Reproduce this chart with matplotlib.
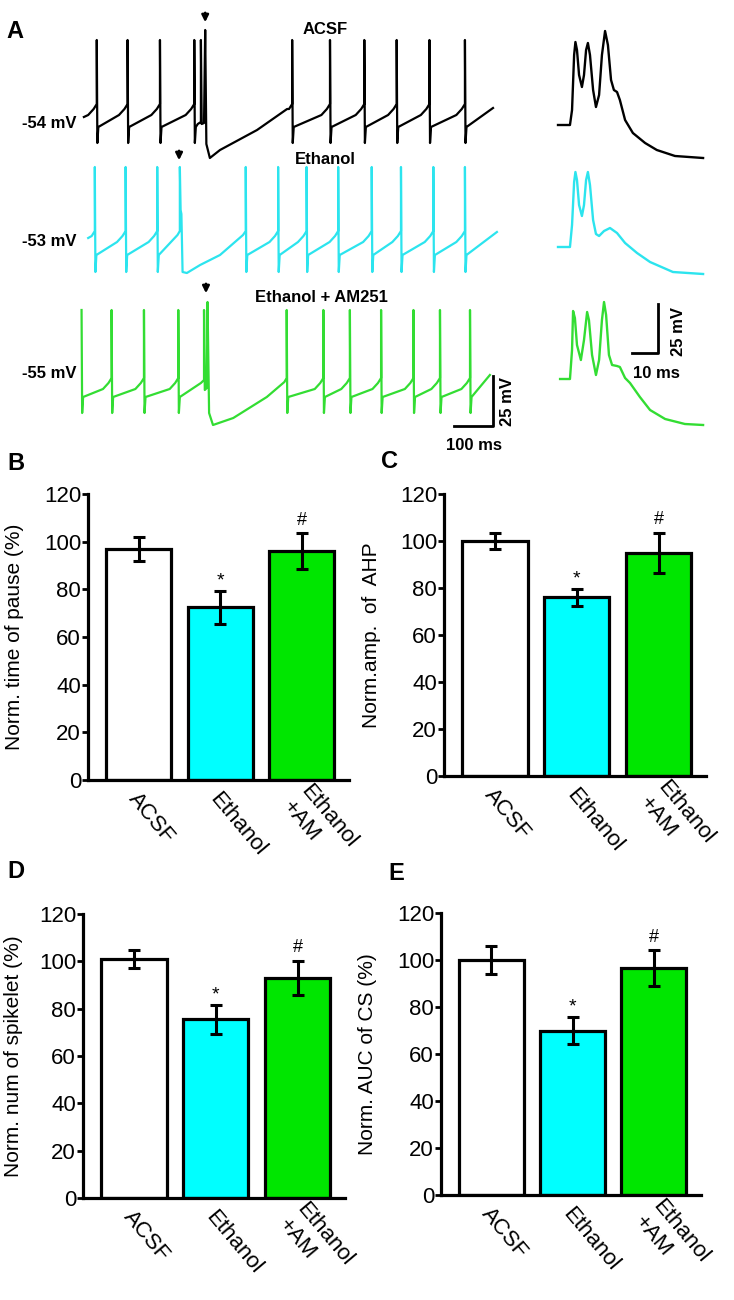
import numpy as np
import matplotlib.pyplot as plt

plt.rcParams['font.family'] = ['Liberation Sans', 'DejaVu Sans']

W, H = 734, 1300

# ---------------- data ----------------
groups = ["ACSF", "Ethanol", "Ethanol\n+AM"]

pause_mean = [97, 72.5, 96]
pause_err = [5, 7, 7.5]
ahp_mean = [100, 76, 95]
ahp_err = [3.3, 3.6, 8.5]
spikelet_mean = [101, 75.5, 93]
spikelet_err = [4, 6, 7.3]
auc_mean = [100, 70, 96.5]
auc_err = [5.8, 5.8, 7.6]

# long recordings: spike times (ms) and voltage levels (mV)
acsf_head = [(10, -52.5)]
acsf_pre = [43, 122, 205, 293]
acsf_cs = [(302, -56), (310, -55), (310, -14), (312, -56), (318, -55.5), (321, -9),
           (324, -66), (333, -73), (359, -69), (454, -59), (531, -48.5)]
acsf_post = [544, 641, 729, 812, 896, 987]
acsf_end = (1059, -48)
acsf_lv = dict(peak=-14, thr=-46, trough=-65.5, reset=-57.5)

eth_head = [(21, -52)]
eth_pre = [38, 117, 198]
eth_cs = [(250, -50.5), (256, -48.5), (256, -16.5), (258, -38), (260, -40), (263, -69),
          (274, -69.5), (308, -65.5), (359, -60.5), (418, -50.5)]
eth_post = [425, 508, 581, 662, 748, 823, 906, 987]
eth_end = (1069, -49)
eth_lv = dict(peak=-16.5, thr=-48.5, trough=-69, reset=-60.5)

am_head = [(4, -25), (5.5, -76.5), (8, -68.5)]
am_pre = [81, 164, 252]
am_cs = [(310, -61.5), (318, -60), (318, -25), (320, -65), (325, -64), (327, -21),
         (331, -76.5), (341, -82.5), (393, -79), (479, -68.5), (524, -61)]
am_post = [530, 624, 692, 772, 855, 923, 1000]
am_end = (1051, -57.5)
am_lv = dict(peak=-25, thr=-59, trough=-76.5, reset=-68.5)

# complex spikes (ms, mV relative to baseline)
cs_acsf = [(0, 0), (4.6, 0), (5.4, 7.5), (6.2, 35), (6.7, 41.5), (7.3, 37.5), (8.1, 25),
           (9.2, 19), (10.0, 25), (10.8, 37.5), (11.5, 41), (12.3, 35), (13.5, 17.5),
           (14.6, 9), (15.8, 15), (16.9, 35), (18.1, 47), (19.2, 40), (20.4, 22.5),
           (21.5, 17.5), (22.7, 16.5), (23.8, 12.5), (25.8, 2.5), (28.8, -4),
           (33.5, -9), (38, -12.5), (45, -15.5), (55.8, -16.5)]
cs_eth = [(0, 0), (4.6, 0), (5.4, 11), (6.2, 32.5), (6.7, 37.5), (7.3, 33.5), (8.1, 21),
          (9.2, 15.5), (10, 21), (10.8, 33.5), (11.5, 37.5), (12.3, 31), (13.5, 13.5),
          (14.6, 6.5), (15.8, 5.5), (17.7, 8), (20, 9.5), (22.7, 7), (25.8, 2),
          (30.4, -3), (35.4, -7.5), (44.2, -12.5), (55.8, -13.5)]
cs_am = [(0.8, 0), (4.6, 0), (5.4, 14.5), (5.8, 34), (6.5, 30.5), (7.3, 17), (8.8, 9.5),
         (10, 19.5), (11.2, 33.5), (11.9, 29.5), (13.1, 12), (14.6, 2), (15.8, 9.5),
         (16.9, 29.5), (17.7, 38.5), (18.5, 32), (19.6, 12), (20.8, 7), (22.7, 6.5),
         (23.8, 6), (25.8, 0.5), (27.7, -2), (31.5, -9), (35.4, -15.5), (41.2, -20),
         (48.8, -22.5), (55.8, -23)]

bar_colors = ["white", "#00FFFF", "#00E600"]
trace_colors = ["black", "#2CE4EE", "#33DD33"]

fig = plt.figure(figsize=(W / 100, H / 100), dpi=100)


def px_axes(left, top, width, height):
    ax = fig.add_axes([left / W, 1 - (top + height) / H, width / W, height / H])
    return ax


def ftext(x, y, s, **kw):
    fig.text(x / W, 1 - y / H, s, **kw)


def spike_pts(s, lv):
    return [(s - 22, lv['thr'] - 5.5), (s - 8, lv['thr'] - 2.5), (s, lv['thr']),
            (s, lv['peak']), (s + 1.5, lv['trough']), (s + 4, lv['reset'])]


def add_pts(pts, new):
    # keep time running forward (ramp vertices may fall before a long pause ends)
    for p in new:
        if p[0] >= pts[-1][0]:
            pts.append(p)


def build_trace(head, pre, cs, post, end, lv):
    pts = list(head)
    for s in pre:
        add_pts(pts, spike_pts(s, lv))
    add_pts(pts, cs)
    for s in post:
        add_pts(pts, spike_pts(s, lv))
    pts.append(end)
    return np.array(pts)


# ---------------- panel A: long traces ----------------
# 0.39 px per ms, 2 px per mV; t=0 at x=80 px
traces = [
    (build_trace(acsf_head, acsf_pre, acsf_cs, acsf_post, acsf_end, acsf_lv), 120, -54, 10, 165),
    (build_trace(eth_head, eth_pre, eth_cs, eth_post, eth_end, eth_lv), 240, -53, 150, 285),
    (build_trace(am_head, am_pre, am_cs, am_post, am_end, am_lv), 370, -55, 280, 440),
]
trace_axes = []
for (tr, ylab, vlab, top, bot), col in zip(traces, trace_colors):
    ax = px_axes(80, top, 468, bot - top)
    ax.plot(tr[:, 0], tr[:, 1], color=col, lw=1.6, clip_on=False, solid_joinstyle='round')
    ax.set_xlim(0, 1200)
    ax.set_ylim(vlab - (bot - ylab) / 2, vlab + (ylab - top) / 2)
    ax.axis('off')
    trace_axes.append(ax)

ftext(77, 123, "-54 mV", ha='right', va='center', fontsize=12, fontweight='bold')
ftext(77, 242, "-53 mV", ha='right', va='center', fontsize=12, fontweight='bold')
ftext(77, 373, "-55 mV", ha='right', va='center', fontsize=12, fontweight='bold')
ftext(325, 29, "ACSF", ha='center', va='center', fontsize=12, fontweight='bold')
ftext(325, 159, "Ethanol", ha='center', va='center', fontsize=12, fontweight='bold')
ftext(321, 298, "Ethanol + AM251", ha='center', va='center', fontsize=12, fontweight='bold')

# arrows over the complex spikes
for ax, t, v in [(trace_axes[0], 321, -6.5), (trace_axes[1], 254, -14.5), (trace_axes[2], 323, -18)]:
    ax.annotate('', xy=(t, v), xytext=(t, v + 7.5),
                arrowprops=dict(arrowstyle='-|>', color='black', lw=1.8, mutation_scale=10),
                annotation_clip=False)

# scale bar long traces
axg = trace_axes[2]
axg.plot([1059, 1059, 959], [-58, -83, -83], color='black', lw=2, clip_on=False)
axg.text(1097, -70.5, "25 mV", rotation=90, ha='center', va='center', fontsize=12, fontweight='bold')
axg.text(1009, -93, "100 ms", ha='center', va='center', fontsize=12, fontweight='bold')

# ---------------- panel A: complex spikes ----------------
# 2.6 px per ms, 2 px per mV; t=0 at x=558 px
cs_list = [(cs_acsf, 125, 20, 170), (cs_eth, 247, 160, 290), (cs_am, 379, 290, 440)]
cs_axes = []
for (cs, ybase, top, bot), col in zip(cs_list, trace_colors):
    ax = px_axes(558, top, 156, bot - top)
    arr = np.array(cs)
    ax.plot(arr[:, 0], arr[:, 1], color=col, lw=1.7, clip_on=False, solid_joinstyle='round')
    ax.set_xlim(0, 60)
    ax.set_ylim(-(bot - ybase) / 2, (ybase - top) / 2)
    ax.axis('off')
    cs_axes.append(ax)

axc = cs_axes[2]
axc.plot([38.5, 38.5, 28.5], [37.5, 13, 13], color='black', lw=2, clip_on=False)
axc.text(46.5, 24, "25 mV", rotation=90, ha='center', va='center', fontsize=12, fontweight='bold')
axc.text(38, 3, "10 ms", ha='center', va='center', fontsize=12, fontweight='bold')


# ---------------- bar panels ----------------
def bar_panel(box, vals, errs, ylabel, ylab_x):
    left, top, width, height = box
    ax = px_axes(left, top, width, height)
    x = np.arange(len(vals))
    ax.bar(x, vals, width=0.8, color=bar_colors, edgecolor='black', linewidth=2.3, zorder=2)
    ax.errorbar(x, vals, yerr=errs, fmt='none', ecolor='black', elinewidth=2.2,
                capsize=4, capthick=2.2, zorder=3)
    ax.text(1, vals[1] + errs[1] + 0.5, "*", ha='center', va='bottom', fontsize=14)
    ax.text(2, vals[2] + errs[2] + 2, "#", ha='center', va='bottom', fontsize=13)
    ax.set_xlim(-0.62, 2.58)
    ax.set_ylim(0, 120)
    ax.set_yticks(np.arange(0, 121, 20))
    ax.set_xticks([])
    for sp in ['top', 'right']:
        ax.spines[sp].set_visible(False)
    for sp in ['left', 'bottom']:
        ax.spines[sp].set_linewidth(2.3)
    ax.tick_params(axis='y', length=4, width=2, labelsize=16, pad=1)
    ax.set_ylabel(ylabel, fontsize=15)
    ax.yaxis.set_label_coords((ylab_x - left) / width, 0.5)
    for i, g in enumerate(groups):
        ax.text(i - 0.08, -6.5, g, rotation=-50, rotation_mode='anchor', ha='left',
                va='center', fontsize=16, clip_on=False)
    return ax


bar_panel((88, 494, 261, 286), pause_mean, pause_err, "Norm. time of pause (%)", 24)
bar_panel((444, 494, 262, 282), ahp_mean, ahp_err, "Norm.amp.  of  AHP", 381)
bar_panel((83, 914, 262, 284), spikelet_mean, spikelet_err, "Norm. num of spikelet (%)", 23)
bar_panel((441, 913, 260, 282), auc_mean, auc_err, "Norm. AUC of CS (%)", 377)

# panel letters
for s, x, y in [("A", 15, 31), ("B", 16, 463), ("C", 390, 462), ("D", 16, 872), ("E", 396, 873)]:
    ftext(x, y, s, ha='center', va='center', fontsize=17, fontweight='bold')

fig.savefig("out.png", dpi=100)
